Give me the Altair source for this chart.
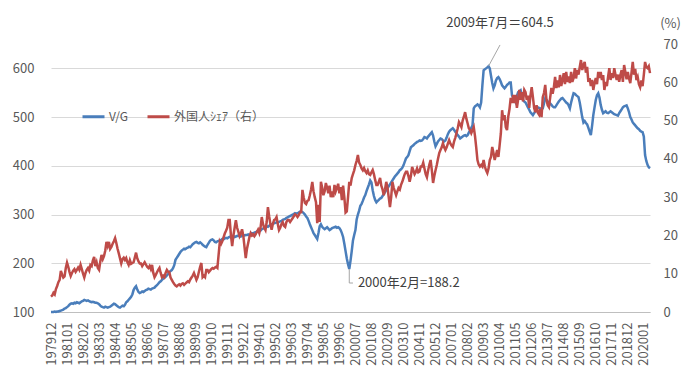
import altair as alt
import pandas as pd

# ---------------- data (monthly, 1979-12 .. 2020-06) ----------------
vg_values = [
    100,
    100, 100, 101, 100, 101, 101, 102, 103, 104, 105, 107, 108,   # 1980
    110, 112, 115, 117, 118, 117, 119, 118, 120, 119, 118, 120,   # 1981
    122, 123, 125, 124, 123, 124, 122, 121, 120, 121, 120, 119,   # 1982
    119, 118, 116, 113, 111, 110, 109, 111, 110, 109, 110, 111,   # 1983
    113, 115, 117, 116, 114, 112, 110, 109, 111, 113, 112, 115,   # 1984
    120, 122, 125, 128, 131, 136, 145, 150, 153, 146, 141, 139,   # 1985
    140, 142, 141, 143, 145, 146, 148, 147, 146, 148, 149, 150,   # 1986
    153, 155, 158, 161, 163, 166, 168, 170, 172, 175, 178, 182,   # 1987
    184, 186, 190, 196, 207, 211, 215, 219, 223, 226, 228, 230,   # 1988
    229, 231, 232, 234, 233, 236, 239, 241, 243, 244, 242, 241,   # 1989
    243, 241, 238, 236, 234, 233, 238, 242, 246, 248, 249, 247,   # 1990
    244, 243, 245, 246, 247, 248, 250, 249, 251, 252, 251, 253,   # 1991
    254, 253, 255, 256, 254, 255, 256, 257, 256, 255, 257, 258,   # 1992
    257, 258, 258, 259, 257, 260, 262, 261, 263, 264, 265, 267,   # 1993
    268, 267, 270, 271, 273, 275, 276, 275, 277, 279, 280, 281,   # 1994
    282, 283, 284, 283, 285, 286, 287, 289, 290, 291, 293, 294,   # 1995
    296, 297, 298, 300, 301, 303, 302, 303, 304, 306, 305, 305,   # 1996
    303, 300, 296, 293, 287, 280, 274, 268, 262, 258, 254, 250,   # 1997
    262, 276, 280, 275, 272, 270, 272, 274, 271, 268, 270, 272,   # 1998
    273, 274, 275, 273, 274, 272, 268, 262, 254, 240, 225, 210,   # 1999
    198, 188.2, 205, 225, 247, 258, 268, 290, 300, 308, 318, 322, # 2000
    328, 335, 340, 348, 355, 362, 370, 366, 350, 338, 330, 325,   # 2001
    328, 330, 333, 334, 338, 342, 346, 350, 354, 358, 362, 366,   # 2002
    370, 374, 378, 381, 384, 387, 391, 393, 396, 401, 408, 415,   # 2003
    418, 422, 430, 438, 440, 442, 445, 447, 449, 450, 452, 451,   # 2004
    452, 455, 459, 458, 456, 460, 463, 466, 469, 462, 450, 440,   # 2005
    445, 450, 453, 456, 455, 452, 450, 452, 458, 465, 470, 473,   # 2006
    475, 477, 474, 470, 467, 463, 460, 456, 458, 460, 462, 463,   # 2007
    461, 463, 468, 473, 478, 483, 518, 522, 524, 526, 524, 520,   # 2008
    530, 565, 596, 598, 600, 602, 604.5, 600, 585, 570, 559, 565, # 2009
    575, 580, 582, 578, 572, 565, 562, 559, 562, 566, 568, 571,   # 2010
    571, 545, 540, 535, 530, 543, 551, 553, 555, 545, 535, 532,   # 2011
    530, 525, 520, 515, 510, 507, 504, 508, 512, 516, 520, 519,   # 2012
    518, 517, 518, 528, 539, 535, 532, 530, 528, 525, 522, 520,   # 2013
    520, 524, 528, 532, 535, 538, 539, 536, 533, 530, 528, 524,   # 2014
    518, 530, 540, 549, 548, 545, 543, 541, 530, 515, 500, 489,   # 2015
    492, 488, 485, 478, 470, 463, 482, 504, 520, 535, 545, 549,   # 2016
    540, 525, 515, 508, 510, 512, 509, 508, 510, 512, 510, 508,   # 2017
    506, 505, 504, 503, 508, 512, 516, 520, 522, 523, 524, 518,   # 2018
    510, 500, 495, 489, 486, 483, 480, 477, 475, 472, 470, 469,   # 2019
    460, 422, 410, 402, 397, 395,                                 # 2020
]

share_values = [
    4.0,
    4.3, 5.0, 4.6, 6.0, 6.8, 7.8, 8.4, 10.7, 9.8, 9.0, 9.3, 11.5,          # 1980
    12.9, 11.8, 10.5, 9.4, 10.2, 10.8, 11.2, 10.5, 11.0, 11.6, 11.0, 12.3,  # 1981
    11.2, 10.0, 9.0, 10.2, 11.0, 11.5, 10.8, 12.3, 12.0, 13.5, 14.4, 12.0,  # 1982
    13.0, 11.5, 11.0, 13.2, 14.9, 13.8, 14.6, 16.0, 18.3, 17.2, 18.3, 16.5, # 1983
    17.0, 17.8, 18.5, 19.3, 18.0, 16.5, 15.3, 14.0, 12.7, 13.8, 14.2, 13.6, # 1984
    14.1, 13.0, 12.3, 13.5, 12.6, 12.8, 13.0, 14.2, 15.5, 14.0, 13.2, 12.7, # 1985
    12.7, 12.0, 12.5, 13.0, 12.4, 11.8, 11.5, 12.0, 11.2, 12.3, 10.2, 9.1,  # 1986
    9.7, 10.4, 11.0, 11.5, 10.2, 9.1, 9.5, 9.1, 10.2, 11.0, 10.5, 10.4,     # 1987
    9.0, 8.4, 7.8, 7.3, 6.9, 6.7, 7.0, 7.2, 6.9, 7.3, 7.5, 7.1,             # 1988
    7.4, 7.7, 8.0, 7.8, 8.5, 9.0, 9.5, 10.2, 9.3, 8.4, 9.1, 10.5,           # 1989
    11.8, 12.8, 9.1, 9.5, 9.1, 11.0, 11.0, 10.4, 10.8, 11.2, 11.5, 11.3,    # 1990
    11.6, 11.8, 11.5, 15.0, 18.4, 17.8, 18.5, 19.5, 20.5, 21.2, 22.0, 24.0, # 1991
    24.0, 20.0, 17.2, 20.0, 22.0, 24.0, 22.0, 21.0, 19.8, 20.5, 21.6, 20.0, # 1992
    17.0, 14.1, 16.5, 18.0, 19.6, 20.6, 20.0, 20.3, 19.8, 20.3, 20.9, 21.5, # 1993
    20.6, 22.0, 24.8, 23.0, 22.0, 21.4, 23.5, 27.4, 25.0, 23.0, 21.5, 23.0, # 1994
    24.0, 24.2, 24.8, 23.0, 21.4, 22.0, 23.0, 23.5, 22.5, 22.2, 23.5, 24.0, # 1995
    24.0, 23.5, 24.0, 24.5, 25.0, 25.5, 25.3, 24.8, 25.3, 26.0, 26.1, 31.9, # 1996
    30.0, 28.5, 28.2, 29.0, 29.2, 30.5, 32.0, 34.0, 31.5, 30.0, 28.7, 23.2, # 1997
    28.0, 23.5, 34.0, 32.5, 30.5, 31.5, 33.7, 32.5, 31.0, 33.0, 30.0, 31.5, # 1998
    30.0, 33.2, 31.5, 32.4, 33.5, 31.0, 32.6, 29.2, 33.0, 30.0, 26.0, 26.3, # 1999
    30.0, 34.0, 33.0, 35.0, 36.0, 37.0, 38.4, 39.5, 41.0, 39.0, 38.4, 37.5, # 2000
    37.0, 37.6, 36.8, 36.3, 37.0, 36.0, 35.8, 36.5, 37.1, 36.0, 34.5, 33.2, # 2001
    33.2, 34.0, 35.0, 33.0, 32.0, 30.5, 32.0, 34.0, 32.5, 30.0, 27.4, 30.0, # 2002
    34.0, 32.5, 31.5, 30.5, 31.5, 32.4, 32.0, 33.2, 34.0, 35.0, 36.0, 36.6, # 2003
    36.6, 35.5, 34.0, 35.5, 37.9, 37.0, 36.0, 36.6, 37.5, 36.5, 36.7, 38.0, # 2004
    38.0, 39.0, 37.5, 36.0, 35.2, 37.0, 38.5, 39.7, 37.0, 33.7, 35.5, 37.0, # 2005
    38.4, 40.0, 41.5, 42.3, 43.0, 44.1, 43.0, 42.3, 43.0, 44.0, 44.9, 44.0, # 2006
    43.5, 43.1, 44.5, 45.5, 46.7, 48.0, 49.6, 49.0, 48.3, 50.0, 51.0, 52.2, # 2007
    50.5, 49.3, 48.0, 47.5, 46.7, 47.5, 48.3, 46.0, 43.0, 39.7, 38.5, 38.0, # 2008
    38.4, 38.0, 39.7, 38.0, 37.0, 36.3, 37.5, 39.7, 40.5, 43.1, 41.5, 39.7, # 2009
    41.0, 42.3, 40.5, 43.6, 46.7, 52.7, 50.1, 51.4, 48.3, 47.5, 51.0, 53.0, # 2010
    55.9, 54.6, 56.7, 54.6, 56.7, 53.3, 55.5, 58.0, 55.4, 57.4, 55.0, 58.0, # 2011
    57.4, 55.4, 56.5, 53.3, 56.5, 58.7, 56.1, 53.3, 52.2, 54.0, 52.0, 51.5, # 2012
    53.0, 50.9, 56.1, 57.2, 59.3, 55.5, 54.0, 53.5, 56.0, 58.5, 57.0, 58.7, # 2013
    61.4, 58.5, 60.5, 58.7, 61.9, 59.0, 60.6, 62.4, 59.5, 62.7, 60.1, 61.5, # 2014
    59.8, 62.7, 60.1, 61.1, 63.7, 61.0, 63.2, 62.0, 64.0, 65.8, 63.2, 64.5, # 2015
    65.3, 62.5, 64.0, 60.1, 61.1, 59.0, 60.6, 58.0, 59.8, 61.1, 59.5, 62.7, # 2016
    61.1, 62.7, 60.6, 61.9, 58.0, 60.1, 59.0, 61.5, 63.7, 60.6, 62.4, 61.1, # 2017
    63.7, 61.9, 60.6, 62.0, 60.1, 61.9, 63.2, 60.1, 64.5, 62.7, 60.8, 62.7, # 2018
    61.0, 59.8, 62.5, 65.3, 62.0, 63.5, 60.6, 61.4, 59.5, 58.7, 60.5, 59.0, # 2019
    62.0, 65.3, 64.0, 63.7, 64.2, 62.4,                                     # 2020
]

x_tick_labels = [
    "197912", "198101", "198202", "198303", "198404", "198505", "198606",
    "198707", "198808", "198909", "199010", "199111", "199212", "199401",
    "199502", "199603", "199704", "199805", "199906", "200007", "200108",
    "200209", "200310", "200411", "200512", "200701", "200802", "200903",
    "201004", "201105", "201206", "201307", "201408", "201509", "201610",
    "201711", "201812", "202001",
]
left_ticks = [100, 200, 300, 400, 500, 600]
right_ticks = [0, 10, 20, 30, 40, 50, 60, 70]
series_names = ["V/G", "外国人ｼｪｱ（右）"]

N = len(vg_values)
assert len(share_values) == N
idx = list(range(N))

df_vg = pd.DataFrame({"i": idx, "value": vg_values, "series": series_names[0]})
df_sh = pd.DataFrame({"i": idx, "value": share_values, "series": series_names[1]})

# annotations (month index 355 = 2009-07, 242 = 2000-02)
peak_i, peak_v = 355, 604.5
low_i, low_v = 242, 188.2
df_lead1 = pd.DataFrame({"i": [peak_i, 364.3], "value": [peak_v, 648]})
df_lead2 = pd.DataFrame({"i": [low_i, low_i, 245.0], "value": [low_v, 159.5, 159.5]})
df_txt1 = pd.DataFrame({"i": [364.3], "value": [648], "label": ["2009年7月＝604.5"]})
df_txt2 = pd.DataFrame({"i": [249.0], "value": [159.5], "label": ["2000年2月=188.2"]})

FONT = "Noto Sans CJK JP"
LABEL = "#595959"
BLUE = "#4A7EBB"
RED = "#BE4B48"

tick_idx = [13 * k for k in range(len(x_tick_labels))]
label_expr = "[" + ",".join("'%s'" % s for s in x_tick_labels) + "][round(datum.value/13)]"

x_scale = alt.Scale(domain=[0, N - 1], nice=False, zero=False)
x_enc = alt.X(
    "i:Q",
    scale=x_scale,
    axis=alt.Axis(values=tick_idx, labelExpr=label_expr, labelAngle=270,
                  labelOverlap=False, labelBound=False, labelFlush=False,
                  grid=False, ticks=False, domainColor="#BFBFBF",
                  labelColor=LABEL, labelFontSize=13, labelFont=FONT,
                  labelPadding=10, title=None),
)
x_plain = alt.X("i:Q", scale=x_scale, axis=alt.Axis(
    values=tick_idx, labelExpr=label_expr, labelAngle=270, labelOverlap=False,
    labelBound=False, labelFlush=False, grid=False, ticks=False,
    domainColor="#BFBFBF", labelColor=LABEL, labelFontSize=13, labelFont=FONT,
    labelPadding=10, title=None))
y_left_scale = alt.Scale(domain=[100, 650], nice=False, zero=False)
y_left = alt.Y(
    "value:Q", scale=y_left_scale,
    axis=alt.Axis(values=left_ticks, grid=True, gridColor="#D9D9D9",
                  domain=False, ticks=False, labelColor=LABEL, labelFontSize=13,
                  labelFont=FONT, labelPadding=17, title=None),
)
y_right = alt.Y(
    "value:Q", scale=alt.Scale(domain=[0, 70], nice=False, zero=True),
    axis=alt.Axis(orient="right", values=right_ticks, grid=False, domain=False,
                  ticks=False, labelColor=LABEL, labelFontSize=13, labelFont=FONT,
                  labelPadding=13, title="(%)", titleAngle=0, titleX=20, titleY=-21,
                  titleAlign="center", titleBaseline="middle", titleFont=FONT,
                  titleFontSize=13, titleFontWeight="normal", titleColor=LABEL),
)
color = alt.Color(
    "series:N",
    scale=alt.Scale(domain=series_names, range=[BLUE, RED]),
    legend=alt.Legend(orient="none", legendX=30, legendY=60, direction="horizontal",
                      title=None, symbolType="stroke", symbolSize=484,
                      symbolStrokeWidth=3, labelFont=FONT, labelFontSize=12,
                      labelColor=LABEL, labelOffset=3, columnPadding=12, padding=0),
)

blue = alt.Chart(df_vg).mark_line(strokeWidth=2.5).encode(x=x_enc, y=y_left, color=color)
lead1 = alt.Chart(df_lead1).mark_line(color="#A6A6A6", strokeWidth=1).encode(
    x=x_plain, y=y_left)
lead2 = alt.Chart(df_lead2).mark_line(color="#A6A6A6", strokeWidth=1).encode(
    x=x_plain, y=y_left)
txt1 = alt.Chart(df_txt1).mark_text(align="center", baseline="middle", dy=-22,
                                    font=FONT, fontSize=13, color="#404040").encode(
    x=x_plain, y=y_left, text="label:N")
txt2 = alt.Chart(df_txt2).mark_text(align="left", baseline="middle",
                                    font=FONT, fontSize=13, color="#404040").encode(
    x=x_plain, y=y_left, text="label:N")

left_layer = alt.layer(blue, lead1, lead2, txt1, txt2)
red = alt.Chart(df_sh).mark_line(strokeWidth=2.5).encode(x=x_enc, y=y_right, color=color)

chart = (
    alt.layer(left_layer, red)
    .resolve_scale(y="independent")
    .properties(
        width=599, height=268,
        autosize=alt.AutoSizeParams(type="none"),
        padding={"left": 43, "top": 36, "right": 42, "bottom": 56},
        background="white",
    )
    .configure_view(stroke=None)
    .configure_axisX(labelOverlap=False)
    .configure_axis(labelOverlap=False)
)

chart.save("out.html", embed_options={"renderer": "svg", "actions": False})
